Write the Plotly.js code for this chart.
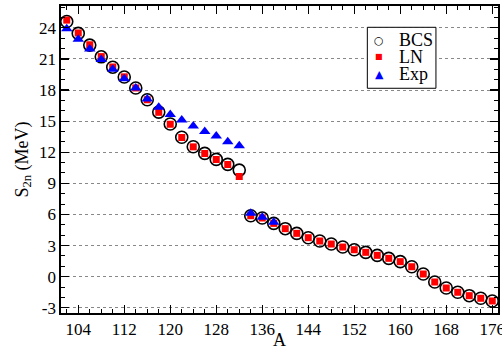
<!DOCTYPE html>
<html>
<head>
<meta charset="utf-8">
<script src="https://cdn.plot.ly/plotly-3.0.1.min.js"></script>
<style>html,body{margin:0;padding:0;background:#fff;}#chart{width:502px;height:350px;}</style>
</head>
<body>
<div id="chart"></div>
<script>
var massA = [102,104,106,108,110,112,114,116,118,120,122,124,126,128,130,132,134,136,138,140,142,144,146,148,150,152,154,156,158,160,162,164,166,168,170,172,174,176];
var bcs = [24.6,23.46,22.33,21.2,20.2,19.25,18.19,17.06,15.87,14.72,13.44,12.53,11.89,11.31,10.83,10.28,5.88,5.66,5.14,4.63,4.18,3.76,3.44,3.15,2.86,2.6,2.35,2.06,1.77,1.45,0.96,0.26,-0.51,-1.09,-1.5,-1.83,-2.08,-2.34];
var ln = [24.74,23.5,22.36,21.22,20.22,19.27,18.2,17.06,15.85,14.7,13.42,12.52,11.88,11.3,10.82,9.66,5.88,5.66,5.14,4.63,4.18,3.76,3.44,3.15,2.86,2.6,2.35,2.06,1.77,1.45,0.96,0.26,-0.51,-1.09,-1.5,-1.83,-2.08,-2.34];
var expA = [102,104,106,108,110,112,114,116,118,120,122,124,126,128,130,132,134,136,138];
var expV = [23.9,22.9,21.95,20.95,20.0,19.08,18.19,17.13,16.33,15.65,15.1,14.52,14.0,13.56,13.0,12.63,6.11,5.72,5.24];
var xTickVals = [104,112,120,128,136,144,152,160,168,176];
var yTickVals = [-3,0,3,6,9,12,15,18,21,24];
var yTickText = ['-3','0','3','6','9','12','15','18','21','24'];
var seriesNames = ['BCS','LN','Exp'];
var legendGlyphs = ['\u25CB','\u25A0','\u25B2'];
var legendColors = ['#000000','#ff0000','#0000ff'];

var serif = 'Liberation Serif';
var traces = [
  {x: massA, y: bcs, name: seriesNames[0], mode: 'markers', type: 'scatter', showlegend: false,
   marker: {symbol: 'circle', size: 12, color: 'rgba(255,255,255,0)', line: {color: '#000', width: 1.6}}},
  {x: massA, y: ln, name: seriesNames[1], mode: 'markers', type: 'scatter', showlegend: false,
   marker: {symbol: 'square', size: 7, color: '#ff0000', line: {width: 0}}},
  {x: expA, y: expV, name: seriesNames[2], mode: 'markers', type: 'scatter', showlegend: false,
   marker: {symbol: 'triangle-up', size: 10, color: '#0000ff', line: {width: 0}}}
];
// custom legend (box + glyphs + labels) in paper coordinates
var legX0 = 0.701, legX1 = 0.858, legY0 = 0.732, legY1 = 0.9306;
var rowY = [0.889, 0.834, 0.7785];
var annotations = [];
for (var i = 0; i < seriesNames.length; i++) {
  annotations.push({xref: 'paper', yref: 'paper', x: 0.7277, y: rowY[i], xanchor: 'center', yanchor: 'middle',
    text: legendGlyphs[i], showarrow: false, borderpad: 0,
    font: {family: 'DejaVu Sans', size: i === 1 ? 8 : 11, color: legendColors[i]}});
  annotations.push({xref: 'paper', yref: 'paper', x: 0.7705, y: rowY[i], xanchor: 'left', yanchor: 'middle',
    text: seriesNames[i], showarrow: false, borderpad: 0,
    font: {family: serif, size: 18, color: '#000'}});
}
var layout = {
  width: 502, height: 350,
  font: {family: serif, size: 17, color: '#000'},
  margin: {l: 61, r: 4, t: 6, b: 37},
  paper_bgcolor: '#fff', plot_bgcolor: '#fff',
  showlegend: false,
  xaxis: {
    showline: true, linecolor: '#000', linewidth: 1.6, mirror: 'allticks',
    ticks: 'inside', ticklen: 8, tickwidth: 1.2, tickcolor: '#000', zeroline: false,
    tickfont: {family: serif, size: 17, color: '#000'},
    range: [101, 177], tickmode: 'array', tickvals: xTickVals, showgrid: false,
    ticklabeloverflow: 'allow',
    minor: {dtick: 2, ticks: 'inside', ticklen: 4, tickwidth: 1, tickcolor: '#000', showgrid: false},
    title: {text: 'A', font: {family: serif, size: 18, color: '#000'}, standoff: 0}
  },
  yaxis: {
    showline: true, linecolor: '#000', linewidth: 1.6, mirror: 'allticks',
    ticks: 'inside', ticklen: 8, tickwidth: 1.2, tickcolor: '#000', zeroline: false,
    tickfont: {family: serif, size: 17, color: '#000'},
    range: [-3.5, 26.1], tickmode: 'array', tickvals: yTickVals, ticktext: yTickText,
    showgrid: true, gridcolor: '#888', griddash: 'dot', gridwidth: 1,
    minor: {dtick: 1, ticks: 'inside', ticklen: 4, tickwidth: 1, tickcolor: '#000', showgrid: false},
    title: {text: 'S<sub>2n</sub> (MeV)', font: {family: serif, size: 18, color: '#000'}, standoff: 6}
  },
  shapes: [{type: 'rect', xref: 'paper', yref: 'paper', x0: legX0, x1: legX1, y0: legY0, y1: legY1,
    line: {color: '#000', width: 1}, fillcolor: '#fff', layer: 'above'}],
  annotations: annotations
};
Plotly.newPlot('chart', traces, layout, {displayModeBar: false, staticPlot: true});
</script>
</body>
</html>
